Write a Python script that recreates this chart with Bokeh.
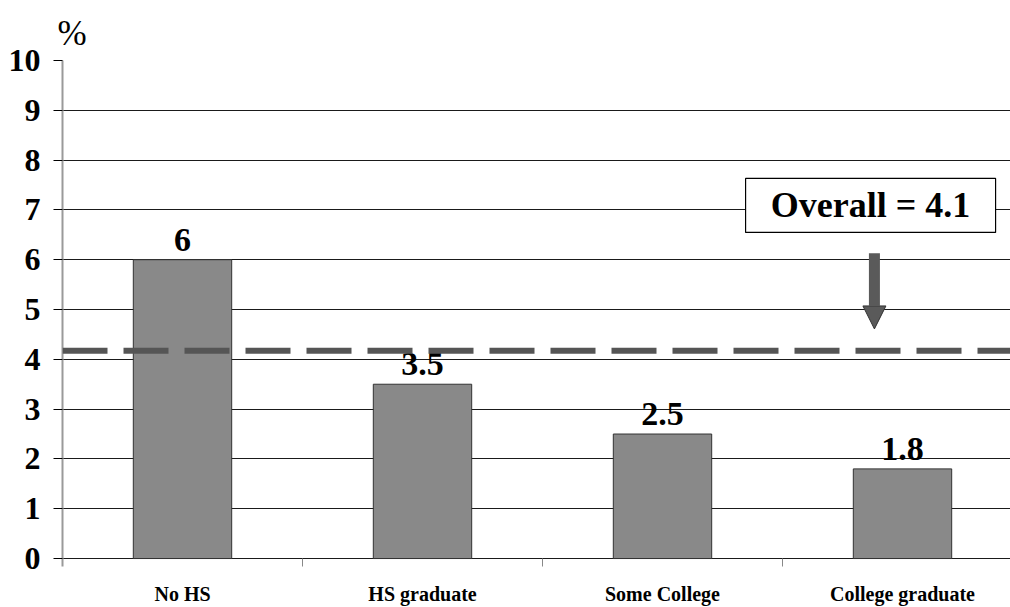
from bokeh.plotting import figure
from bokeh.models import (Range1d, FixedTicker, Span, Arrow, NormalHead,
                          LabelSet, ColumnDataSource)
from bokeh.core.properties import value
from bokeh.embed import file_html
from bokeh.resources import INLINE

# ---- data ----
categories = ["No HS", "HS graduate", "Some College", "College graduate"]
rates = [6, 3.5, 2.5, 1.8]
rate_labels = ["6", "3.5", "2.5", "1.8"]
overall_value = 4.1
overall_line_level = 4.17
y_ticks = list(range(0, 11))
y_unit = "%"

FONT = "Liberation Serif"

xs = [i + 0.5 for i in range(len(categories))]
src = ColumnDataSource(dict(x=xs, top=rates, lab=rate_labels))

p = figure(width=1010, height=607, output_backend="svg", toolbar_location=None,
           x_range=Range1d(0, 3.95), y_range=Range1d(-0.16, 10),
           min_border_left=62, min_border_right=0, min_border_top=60,
           min_border_bottom=40, title=y_unit)
p.outline_line_color = None
p.background_fill_color = "white"
p.border_fill_color = "white"

# unit title
p.title.text_font = FONT
p.title.text_font_style = "normal"
p.title.text_font_size = "35px"
p.title.text_color = "black"
p.title.align = "left"
p.title.offset = -5
p.title.standoff = 16

# grid
p.xgrid.grid_line_color = None
p.ygrid.ticker = FixedTicker(ticks=y_ticks)
p.ygrid.grid_line_color = "#1a1a1a"
p.ygrid.grid_line_width = 1

# y axis
p.yaxis.ticker = FixedTicker(ticks=y_ticks)
p.yaxis.major_label_text_font = FONT
p.yaxis.major_label_text_font_style = "bold"
p.yaxis.major_label_text_font_size = "32px"
p.yaxis.major_label_text_color = "black"
p.yaxis.major_label_standoff = 13
p.yaxis.major_tick_out = 9
p.yaxis.major_tick_in = 0
p.yaxis.major_tick_line_color = "black"
p.yaxis.minor_tick_line_color = None
p.yaxis.axis_line_color = "#9a9a9a"
p.yaxis.axis_line_width = 2

# x axis: category labels at bar centres, separator ticks between categories
p.xaxis.ticker = FixedTicker(ticks=xs, minor_ticks=list(range(1, len(categories))))
p.xaxis.major_label_overrides = {x: c for x, c in zip(xs, categories)}
p.xaxis.axis_line_color = None
p.xaxis.major_tick_line_color = None
p.xaxis.major_tick_in = 0
p.xaxis.major_tick_out = 0
p.xaxis.major_label_text_font = FONT
p.xaxis.major_label_text_font_style = "bold"
p.xaxis.major_label_text_font_size = "20px"
p.xaxis.major_label_text_color = "black"
p.xaxis.major_label_standoff = 16
p.xaxis.minor_tick_in = 8
p.xaxis.minor_tick_out = 0
p.xaxis.minor_tick_line_color = "#888888"
p.xaxis.minor_tick_line_width = 1

# bars
p.vbar(x="x", top="top", bottom=0, width=0.41, source=src,
       fill_color="#898989", line_color="#333333", line_width=1)

# value labels
p.add_layout(LabelSet(x="x", y="top", text="lab", source=src,
                      text_font=value(FONT), text_font_style="bold",
                      text_font_size="34px", text_color="black",
                      text_align="center", text_baseline="alphabetic",
                      y_offset=9))

# overall dashed line
p.add_layout(Span(location=overall_line_level, dimension="width",
                  line_color="#555555", line_width=6, line_dash="45 16"))

# overall box
box_x, box_y = 3.367, 7.09
p.rect(x=[box_x], y=[box_y], width=250, height=54, width_units="screen",
       height_units="screen", fill_color="white", line_color="black", line_width=1.2)
p.text(x=[box_x], y=[box_y], text=[f"Overall = {overall_value}"],
       text_font=value(FONT), text_font_style="bold", text_font_size="36px",
       text_color="black", text_align="center", text_baseline="middle")

# arrow
p.add_layout(Arrow(end=NormalHead(size=23, fill_color="#5a5a5a", line_color="#333333",
                                  line_width=1),
                   x_start=3.383, y_start=6.13, x_end=3.383, y_end=4.61,
                   line_width=11, line_color="#5a5a5a"))

open("out.html", "w").write(file_html(p, INLINE))
